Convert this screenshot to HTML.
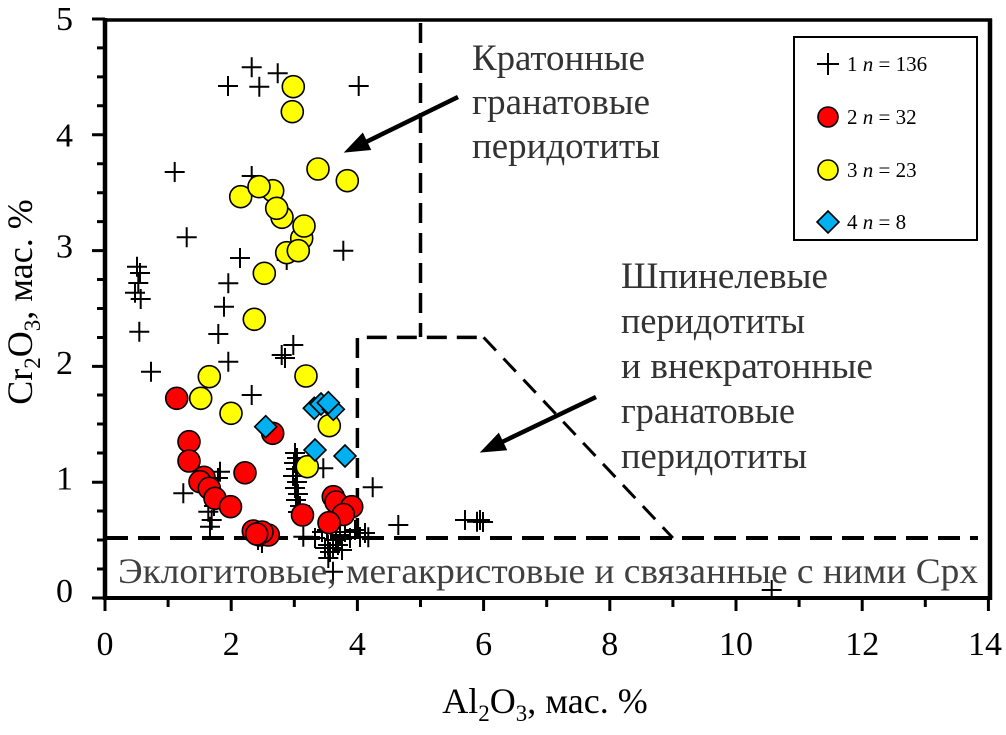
<!DOCTYPE html>
<html>
<head>
<meta charset="utf-8">
<style>
html,body{margin:0;padding:0;background:#fff;}
svg{display:block;}
text{font-family:"Liberation Serif","Noto Serif CJK SC",serif;}
</style>
</head>
<body>
<svg width="1006" height="735" viewBox="0 0 1006 735" xmlns="http://www.w3.org/2000/svg">
<rect x="0" y="0" width="1006" height="735" fill="#fff"/>

<g fill="none" stroke="#000" stroke-width="4">
  <line x1="106" y1="538" x2="978" y2="538" stroke-dasharray="22 10"/>
  <line x1="420.5" y1="23" x2="420.5" y2="337" stroke-dasharray="20 10" stroke-width="3.5"/>
  <polyline points="357.4,538 357.4,337.4 483.6,337.4" stroke-dasharray="20 10" stroke-width="3.5"/>
  <line x1="483.6" y1="337.4" x2="672.9" y2="538" stroke-dasharray="18 11" stroke-width="3"/>
</g>

<g stroke="#000" stroke-width="2" fill="none">
<path d="M241.7 67.3h20M251.7 57.3v20M267.7 73.3h20M277.7 63.3v20M218 86h20M228 76v20M249.3 86.7h20M259.3 76.7v20M348.7 86h20M358.7 76v20M164.7 172h20M174.7 162v20M241.7 176h20M251.7 166v20M176.7 237.3h20M186.7 227.3v20M333.3 250.7h20M343.3 240.7v20M230 258h20M240 248v20M276.7 260h20M286.7 250v20M127 266.7h20M137 256.7v20M130 273h20M140 263v20M128.3 283h20M138.3 273v20M125 292.7h20M135 282.7v20M130.7 299h20M140.7 289v20M129.3 331.7h20M139.3 321.7v20M141 371.7h20M151 361.7v20M218.3 283.3h20M228.3 273.3v20M214 306.7h20M224 296.7v20M208.3 334h20M218.3 324v20M218.3 361.7h20M228.3 351.7v20M241.7 395h20M251.7 385v20M271.7 355h20M281.7 345v20M283.3 345h20M293.3 335v20M275 358h20M285 348v20M173.3 493.3h20M183.3 483.3v20M210 471.7h20M220 461.7v20M208 478h20M218 468v20M198.3 511.7h20M208.3 501.7v20M201.7 520h20M211.7 510v20M200 526.7h20M210 516.7v20M204 506h20M214 496v20M248 540h20M258 530v20M252 543h20M262 533v20M285 453h20M295 443v20M287 458h20M297 448v20M284 463h20M294 453v20M286 469h20M296 459v20M283 476h20M293 466v20M287 482h20M297 472v20M285 488h20M295 478v20M288 494h20M298 484v20M286 500h20M296 490v20M290 506h20M300 496v20M288 512h20M298 502v20M313.3 468.3h20M323.3 458.3v20M362.7 487.3h20M372.7 477.3v20M293.3 536.7h20M303.3 526.7v20M305 538h20M315 528v20M312 532h20M322 522v20M318 545h20M328 535v20M320 552h20M330 542v20M318.3 558h20M328.3 548v20M323 548h20M333 538v20M326 540h20M336 530v20M330 535h20M340 525v20M335 532h20M345 522v20M340 538h20M350 528v20M345 530h20M355 520v20M350 537h20M360 527v20M355 533h20M365 523v20M317 530h20M327 520v20M323 571.7h20M333 561.7v20M315 548h20M325 538v20M328 545h20M338 535v20M332 550h20M342 540v20M358.3 537.3h20M368.3 527.3v20M388.3 525h20M398.3 515v20M455 520h20M465 510v20M467 521.7h20M477 511.7v20M470 520h20M480 510v20M473 522h20M483 512v20M761.7 590h20M771.7 580v20"/>
</g>

<g fill="#ff0000" stroke="#000" stroke-width="1.6">
<circle cx="176.7" cy="398.3" r="11"/>
<circle cx="189" cy="441.7" r="11"/>
<circle cx="189" cy="461" r="11"/>
<circle cx="204" cy="477.3" r="11"/>
<circle cx="200" cy="481.7" r="11"/>
<circle cx="209.3" cy="488.3" r="11"/>
<circle cx="215" cy="498.3" r="11"/>
<circle cx="230.5" cy="506.7" r="11"/>
<circle cx="245" cy="472.8" r="11"/>
<circle cx="272.7" cy="433.3" r="11"/>
<circle cx="253.3" cy="531" r="11"/>
<circle cx="260" cy="535" r="11"/>
<circle cx="268.3" cy="535" r="11"/>
<circle cx="262" cy="532" r="11"/>
<circle cx="256.7" cy="534" r="11"/>
<circle cx="302.5" cy="515" r="11"/>
<circle cx="333.3" cy="496.7" r="11"/>
<circle cx="336" cy="502" r="11"/>
<circle cx="351.7" cy="506.7" r="11"/>
<circle cx="343.3" cy="514.5" r="11"/>
<circle cx="329" cy="522.7" r="11"/>
</g>

<g fill="#ffff00" stroke="#000" stroke-width="1.6">
<circle cx="293.3" cy="86.7" r="11"/>
<circle cx="292.3" cy="111.7" r="11"/>
<circle cx="318" cy="169" r="11"/>
<circle cx="347.3" cy="180.7" r="11"/>
<circle cx="240.7" cy="196.7" r="11"/>
<circle cx="272.7" cy="190.7" r="11"/>
<circle cx="259" cy="186.7" r="11"/>
<circle cx="282" cy="217.3" r="11"/>
<circle cx="276.7" cy="208.3" r="11"/>
<circle cx="301.7" cy="238.3" r="11"/>
<circle cx="304" cy="226" r="11"/>
<circle cx="286.7" cy="252.7" r="11"/>
<circle cx="298.3" cy="250.7" r="11"/>
<circle cx="264.3" cy="273.3" r="11"/>
<circle cx="254.3" cy="319.3" r="11"/>
<circle cx="306" cy="376" r="11"/>
<circle cx="209.3" cy="376.7" r="11"/>
<circle cx="200.7" cy="398.3" r="11"/>
<circle cx="231" cy="413.3" r="11"/>
<circle cx="329.3" cy="425.7" r="11"/>
<circle cx="307.3" cy="466.7" r="11"/>
</g>

<g fill="#00b0f0" stroke="#000" stroke-width="1.6">
<path d="M265.7 415.7l11 11-11 11-11-11z"/>
<path d="M314.3 397.3l11 11-11 11-11-11z"/>
<path d="M321 393l11 11-11 11-11-11z"/>
<path d="M333.3 398.3l11 11-11 11-11-11z"/>
<path d="M328.3 391.7l11 11-11 11-11-11z"/>
<path d="M315 439l11 11-11 11-11-11z"/>
<path d="M345 445l11 11-11 11-11-11z"/>
</g>

<g stroke="#000" stroke-width="4.5" fill="#000">
  <line x1="458" y1="97" x2="364" y2="143"/>
  <polygon points="345,152 370.5,149.6 362.7,133.4" stroke-width="1"/>
  <line x1="596" y1="397" x2="500" y2="443"/>
  <polygon points="481,452 506.5,449.8 498.7,433.5" stroke-width="1"/>
</g>

<g stroke="#000" fill="none">
  <line x1="103" y1="20" x2="992" y2="20" stroke-width="3.5"/>
  <line x1="990" y1="18.5" x2="990" y2="600" stroke-width="4.5"/>
  <line x1="105" y1="18" x2="105" y2="600" stroke-width="4.5"/>
  <line x1="103" y1="598" x2="992" y2="598" stroke-width="4"/>
</g>

<g stroke="#000" stroke-width="3">
<path d="M92 598h13M92 482.2h13M92 366.4h13M92 250.6h13M92 134.8h13M92 19h13M97 569h8M97 540h8M97 511h8M97 453h8M97 424h8M97 395h8M97 337.5h8M97 308.5h8M97 279.5h8M97 221.6h8M97 192.7h8M97 163.7h8M97 105.8h8M97 76.9h8M97 47.9h8"/>
<path d="M105 598v13M231.2 598v13M357.4 598v13M483.6 598v13M609.8 598v13M736 598v13M862.2 598v13M988.4 598v13M168.1 598v9M294.3 598v9M420.5 598v9M546.7 598v9M672.9 598v9M799.1 598v9M925.3 598v9"/>
</g>

<g font-size="34" fill="#000" text-anchor="end">
<text x="73" y="602">0</text>
<text x="73" y="489.5">1</text>
<text x="73" y="374">2</text>
<text x="73" y="257.5">3</text>
<text x="73" y="146.5">4</text>
<text x="73" y="30">5</text>
</g>
<g font-size="34" fill="#000" text-anchor="middle">
<text x="105" y="655">0</text>
<text x="231.2" y="655">2</text>
<text x="357.4" y="655">4</text>
<text x="483.6" y="655">6</text>
<text x="609.8" y="655">8</text>
<text x="736" y="655">10</text>
<text x="862.2" y="655">12</text>
<text x="985" y="655">14</text>
</g>

<text x="545" y="713" font-size="36" fill="#000" text-anchor="middle">Al<tspan font-size="23" dy="8">2</tspan><tspan dy="-8">O</tspan><tspan font-size="23" dy="8">3</tspan><tspan dy="-8">, мас. %</tspan></text>
<text transform="translate(32,302) rotate(-90)" font-size="36" fill="#000" text-anchor="middle">Cr<tspan font-size="23" dy="8">2</tspan><tspan dy="-8">O</tspan><tspan font-size="23" dy="8">3</tspan><tspan dy="-8">, мас. %</tspan></text>

<g font-size="37" fill="#333">
<text x="472" y="70" textLength="173" lengthAdjust="spacingAndGlyphs">Кратонные</text>
<text x="472" y="114" textLength="178" lengthAdjust="spacingAndGlyphs">гранатовые</text>
<text x="472" y="158" textLength="188" lengthAdjust="spacingAndGlyphs">перидотиты</text>
<text x="621" y="288" textLength="207" lengthAdjust="spacingAndGlyphs">Шпинелевые</text>
<text x="621" y="333" textLength="184" lengthAdjust="spacingAndGlyphs">перидотиты</text>
<text x="621" y="378" textLength="252" lengthAdjust="spacingAndGlyphs">и внекратонные</text>
<text x="621" y="423" textLength="174" lengthAdjust="spacingAndGlyphs">гранатовые</text>
<text x="621" y="468" textLength="186" lengthAdjust="spacingAndGlyphs">перидотиты</text>
</g>
<text x="118" y="583" font-size="36" fill="#404040" textLength="860" lengthAdjust="spacingAndGlyphs">Эклогитовые, мегакристовые и связанные с ними Срх</text>

<rect x="794" y="37" width="183" height="203" fill="#fff" stroke="#000" stroke-width="2"/>
<path d="M817 64h22M828 53v22" stroke="#000" stroke-width="2"/>
<circle cx="828" cy="117" r="10" fill="#ff0000" stroke="#000" stroke-width="1.6"/>
<circle cx="828" cy="170" r="10" fill="#ffff00" stroke="#000" stroke-width="1.6"/>
<path d="M828 211l11 11-11 11-11-11z" fill="#00b0f0" stroke="#000" stroke-width="1.6"/>
<g font-size="21" fill="#000">
<text x="847" y="71">1 <tspan font-style="italic">n</tspan> = 136</text>
<text x="847" y="124">2 <tspan font-style="italic">n</tspan> = 32</text>
<text x="847" y="177">3 <tspan font-style="italic">n</tspan> = 23</text>
<text x="847" y="229">4 <tspan font-style="italic">n</tspan> = 8</text>
</g>
</svg>
</body>
</html>
